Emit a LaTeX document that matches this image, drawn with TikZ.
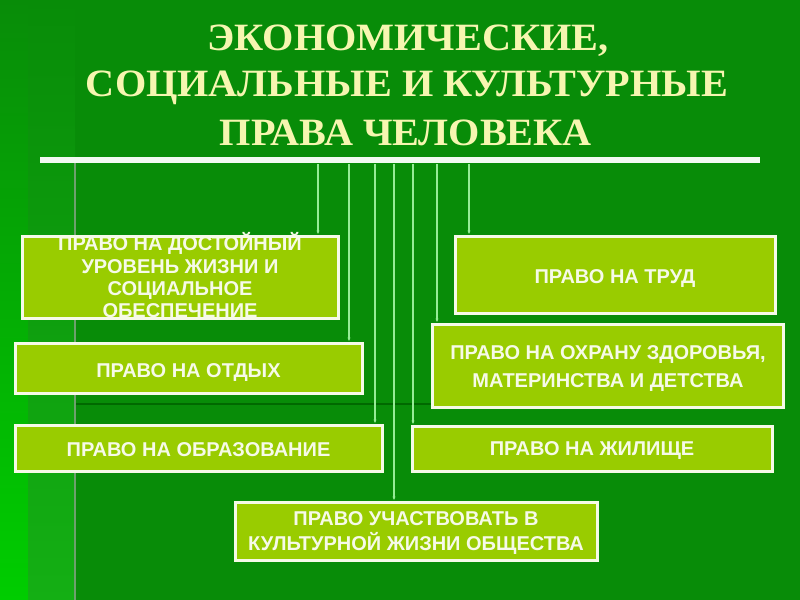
\documentclass[tikz,border=0pt]{standalone}
\usepackage{fontspec}
\setmainfont{Liberation Serif}
\newfontfamily\titlefont[FakeStretch=1.04]{Liberation Serif}
\newfontfamily\boxfont{Liberation Sans}
\usetikzlibrary{arrows.meta}

\definecolor{bgmain}{RGB}{8,140,8}
\definecolor{bgbright}{RGB}{0,205,0}
\definecolor{bgmid}{RGB}{20,175,20}
\definecolor{boxfill}{RGB}{153,204,0}
\definecolor{boxtext}{RGB}{246,250,232}
\definecolor{titletext}{RGB}{246,246,176}
\definecolor{connline}{RGB}{150,236,150}

\tikzset{
  rightbox/.style={draw=boxtext, line width=2.25pt, fill=boxfill, text=boxtext,
    font=\boxfont\bfseries\fontsize{15}{18.75}\selectfont, align=center, inner sep=0pt,
    text height=10.7pt, text depth=0pt},
  conn/.style={draw=connline, line width=1pt, -{Latex[length=3pt,width=2.5pt]}},
  titleline/.style={text=titletext, font=\titlefont\bfseries\fontsize{29}{34}\selectfont,
    text height=19.1pt, text depth=0pt}
}

\begin{document}
\begin{tikzpicture}[x=0.75pt,y=0.75pt,yscale=-1,xscale=1]
\useasboundingbox (0,0) rectangle (800,600);

% background of the slide
\fill[bgmain] (0,0) rectangle (800,600);
\shade[top color=bgmain, bottom color=bgbright] (0,0) rectangle (28,600);
\shade[top color=bgmain, bottom color=bgmid] (28,0) rectangle (75,600);
\draw[color={rgb,255:red,110;green,160;blue,110}, line width=1.5pt] (75,163) -- (75,600);
\draw[color={rgb,255:red,0;green,105;blue,0}, line width=2pt] (76,404) -- (432,404);

% Title
\node[titleline] (title1) at (408,37.5) {ЭКОНОМИЧЕСКИЕ,};
\node[titleline] (title2) at (407,84) {СОЦИАЛЬНЫЕ И КУЛЬТУРНЫЕ};
\node[titleline] (title3) at (406,133) {ПРАВА ЧЕЛОВЕКА};

% bar under the title
\draw[color={rgb,255:red,242;green,250;blue,242}, line width=4.5pt] (40,160) -- (760,160);

% boxes
\node[rightbox, minimum width=237pt, minimum height=61.5pt,
  font=\boxfont\bfseries\fontsize{15}{16.75}\selectfont, text height=61.35pt] (dostoin) at (180,277)
  {ПРАВО НА ДОСТОЙНЫЙ\\УРОВЕНЬ ЖИЗНИ И\\СОЦИАЛЬНОЕ\\ОБЕСПЕЧЕНИЕ};
\node[rightbox, minimum width=260.25pt, minimum height=37.5pt, text height=13.7pt] (otdyh) at (188.5,368) {ПРАВО НА ОТДЫХ};
\node[rightbox, minimum width=275.25pt, minimum height=34.5pt, text height=12.2pt] (obraz) at (198.5,448) {ПРАВО НА ОБРАЗОВАНИЕ};
\node[rightbox, minimum width=271.5pt, minimum height=43.5pt, text height=29.45pt] (kultura) at (416,531)
  {ПРАВО УЧАСТВОВАТЬ В\\КУЛЬТУРНОЙ ЖИЗНИ ОБЩЕСТВА};
\node[rightbox, minimum width=240pt, minimum height=57.75pt, text height=12.9pt] (trud) at (615,274.5) {ПРАВО НА ТРУД};
\node[rightbox, minimum width=263.25pt, minimum height=62.25pt,
  font=\boxfont\bfseries\fontsize{15}{21}\selectfont, text height=32.5pt] (ohrana) at (608,365.5)
  {ПРАВО НА ОХРАНУ ЗДОРОВЬЯ,\\МАТЕРИНСТВА И ДЕТСТВА};
\node[rightbox, minimum width=270pt, minimum height=33.75pt] (zhile) at (592,448.5) {ПРАВО НА ЖИЛИЩЕ};

% arrows from the bar
\coordinate (a1) at (318,164);
\coordinate (a2) at (349,164);
\coordinate (a3) at (375,164);
\coordinate (a4) at (394,164);
\coordinate (a5) at (413,164);
\coordinate (a6) at (437,164);
\coordinate (a7) at (469,164);
\draw[conn] (a1) -- (a1 |- dostoin.north);
\draw[conn] (a2) -- (a2 |- otdyh.north);
\draw[conn] (a3) -- (a3 |- obraz.north);
\draw[conn] (a4) -- (a4 |- kultura.north);
\draw[conn] (a5) -- (a5 |- zhile.north);
\draw[conn] (a6) -- (a6 |- ohrana.north);
\draw[conn] (a7) -- (a7 |- trud.north);

\end{tikzpicture}
\end{document}
